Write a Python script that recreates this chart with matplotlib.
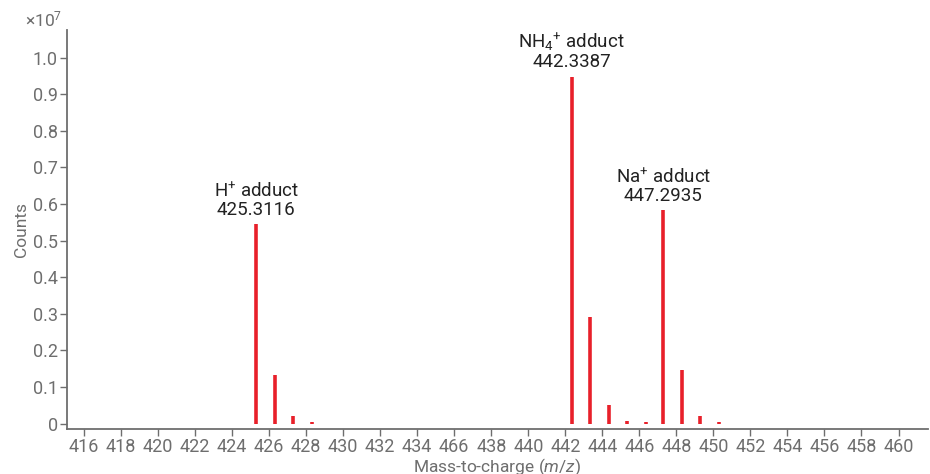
import numpy as np
import matplotlib.pyplot as plt

plt.rcParams['font.family'] = ['Roboto', 'DejaVu Sans']
plt.rcParams['mathtext.fontset'] = 'custom'
plt.rcParams['mathtext.rm'] = 'Roboto'
plt.rcParams['mathtext.it'] = 'Roboto:italic'

# peak positions (m/z) and heights (x1e7 counts)
mz = [425.3116, 426.31, 427.31, 428.31,
      442.3387, 443.34, 444.34, 445.34, 446.34,
      447.2935, 448.30, 449.30, 450.30]
counts = [0.545, 0.134, 0.020, 0.004,
          0.948, 0.292, 0.050, 0.006, 0.004,
          0.583, 0.147, 0.022, 0.004]

xticks = list(range(416, 462, 2))
xlabels = [str(t) for t in xticks]
xlabels[xticks.index(436)] = '466'
yticks = [0, 0.1, 0.2, 0.3, 0.4, 0.5, 0.6, 0.7, 0.8, 0.9, 1.0]
ylabels = ['0'] + ['%.1f' % t for t in yticks[1:]]

labels = ['H$^{+}$ adduct\n425.3116', 'NH$_{4}{}^{+}$ adduct\n442.3387', 'Na$^{+}$ adduct\n447.2935']
label_x = [425.3116, 442.3387, 447.2935]
label_y = [0.545, 0.948, 0.583]

grey = '#6e6e6e'
fig = plt.figure(figsize=(9.3, 4.74), dpi=100)
ax = fig.add_axes([0.072, 0.094, 0.926, 0.843])

ax.vlines(mz, 0, counts, color='#e8202a', linewidth=2.6)

for x, y, s in zip(label_x, label_y, labels):
    ax.text(x, y + 0.015, s, ha='center', va='bottom', fontsize=13.5,
            color='#222222', linespacing=1.0)

ax.set_xlim(415.08, 461.6)
ax.set_ylim(-0.016, 1.076)
ax.set_xticks(xticks)
ax.set_xticklabels(xlabels)
ax.set_yticks(yticks)
ax.set_yticklabels(ylabels)
ax.tick_params(colors=grey, labelcolor=grey, labelsize=13, length=5, width=1, pad=1.5)

for side in ['top', 'right']:
    ax.spines[side].set_visible(False)
for side in ['left', 'bottom']:
    ax.spines[side].set_color(grey)
    ax.spines[side].set_linewidth(1.3)

ax.set_xlabel('Mass-to-charge ($\\it{m/z}$)', fontsize=12.5, color=grey, labelpad=0)
ax.set_ylabel('Counts', fontsize=12.5, color=grey, labelpad=3)
fig.text(0.027, 0.958, '×10$^{7}$', fontsize=12.5, color=grey, va='center')

fig.savefig('out.png', dpi=100)
